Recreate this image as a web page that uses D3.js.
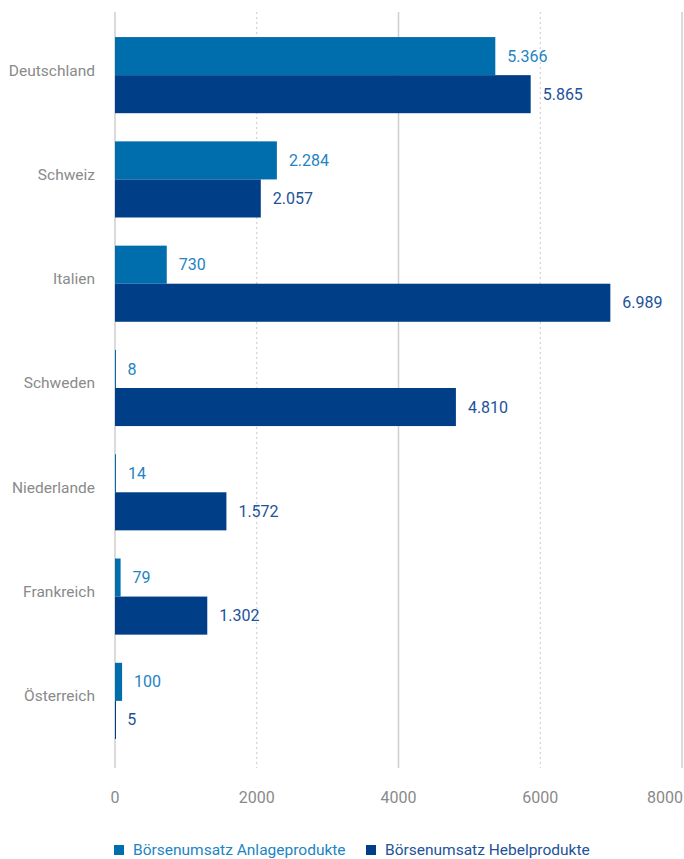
<!DOCTYPE html>
<html>
<head>
<meta charset="utf-8">
<script src="https://cdn.jsdelivr.net/npm/d3@7"></script>
<style>
  body { margin: 0; background: #fff; }
  text { font-family: Roboto, "Noto Sans", sans-serif; }
</style>
</head>
<body>
<script>
// data
let countries = ["Deutschland", "Schweiz", "Italien", "Schweden", "Niederlande", "Frankreich", "Österreich"];
let anlage = [5366, 2284, 730, 8, 14, 79, 100];
let hebel = [5865, 2057, 6989, 4810, 1572, 1302, 5];
let ticks = [0, 2000, 4000, 6000, 8000];
let seriesNames = ["Börsenumsatz Anlageprodukte", "Börsenumsatz Hebelprodukte"];

let colors = ["#006eac", "#003f88"];
let labelColors = ["#2284c3", "#22529a"];

let svg = d3.select("body").append("svg")
	.attr("width", 684)
	.attr("height", 859);

let x = d3.scaleLinear()
	.domain([0, 8000])
	.range([115, 682]);

let y = d3.scaleBand()
	.domain(countries)
	.range([23, 753])
	.paddingInner(0.27)
	.paddingOuter(0.135);

let sub = d3.scaleBand()
	.domain([0, 1])
	.range([0, y.bandwidth()]);

let fmt = d3.formatLocale({ decimal: ",", thousands: ".", grouping: [3], currency: ["", "€"] }).format(",d");

// grid lines: solid at 0/4000/8000, dotted at 2000/6000
svg.append("g").selectAll("line")
	.data(ticks)
	.join("line")
	.attr("x1", d => x(d))
	.attr("x2", d => x(d))
	.attr("y1", 12)
	.attr("y2", 768)
	.attr("stroke", d => (d / 2000) % 2 ? "#c9c9c9" : "#cfcfcf")
	.attr("stroke-width", d => (d / 2000) % 2 ? 1 : 1.5)
	.attr("stroke-dasharray", d => (d / 2000) % 2 ? "2,3" : null);

// tick labels (last one pulled in so it fits)
svg.append("g").selectAll("text")
	.data(ticks)
	.join("text")
	.attr("x", (d, i) => i == ticks.length - 1 ? 683 : x(d))
	.attr("y", 797)
	.attr("dy", "0.35em")
	.attr("text-anchor", (d, i) => i == ticks.length - 1 ? "end" : "middle")
	.attr("font-size", 16)
	.attr("fill", "#8a8a8a")
	.text(d => d);

// country labels
svg.append("g").selectAll("text")
	.data(countries)
	.join("text")
	.attr("x", 95)
	.attr("y", d => y(d) + y.bandwidth() / 2 - 5)
	.attr("dy", "0.35em")
	.attr("text-anchor", "end")
	.attr("font-size", 15.5)
	.attr("fill", "#8a8a8a")
	.text(d => d);

// bars
let rows = [];
countries.forEach((c, i) => {
	rows.push({ c: c, s: 0, v: anlage[i] });
	rows.push({ c: c, s: 1, v: hebel[i] });
});

svg.append("g").selectAll("rect")
	.data(rows)
	.join("rect")
	.attr("x", x(0))
	.attr("y", d => y(d.c) + sub(d.s))
	.attr("width", d => Math.max(x(d.v) - x(0), 1))
	.attr("height", sub.bandwidth())
	.attr("fill", d => colors[d.s]);

svg.append("g").selectAll("text")
	.data(rows)
	.join("text")
	.attr("x", d => x(d.v) + 12)
	.attr("y", d => y(d.c) + sub(d.s) + sub.bandwidth() / 2)
	.attr("dy", "0.35em")
	.attr("font-size", 16)
	.attr("fill", d => labelColors[d.s])
	.text(d => fmt(d.v));

// legend
let legend = svg.append("g").selectAll("g")
	.data(seriesNames)
	.join("g")
	.attr("transform", (d, i) => `translate(${i ? 366 : 114}, 850)`);

legend.append("rect")
	.attr("x", 0)
	.attr("y", -5)
	.attr("width", 10)
	.attr("height", 10)
	.attr("fill", (d, i) => colors[i]);

legend.append("text")
	.attr("x", 19)
	.attr("dy", "0.35em")
	.attr("font-size", 15.5)
	.attr("fill", (d, i) => labelColors[i])
	.text(d => d);
</script>
</body>
</html>
